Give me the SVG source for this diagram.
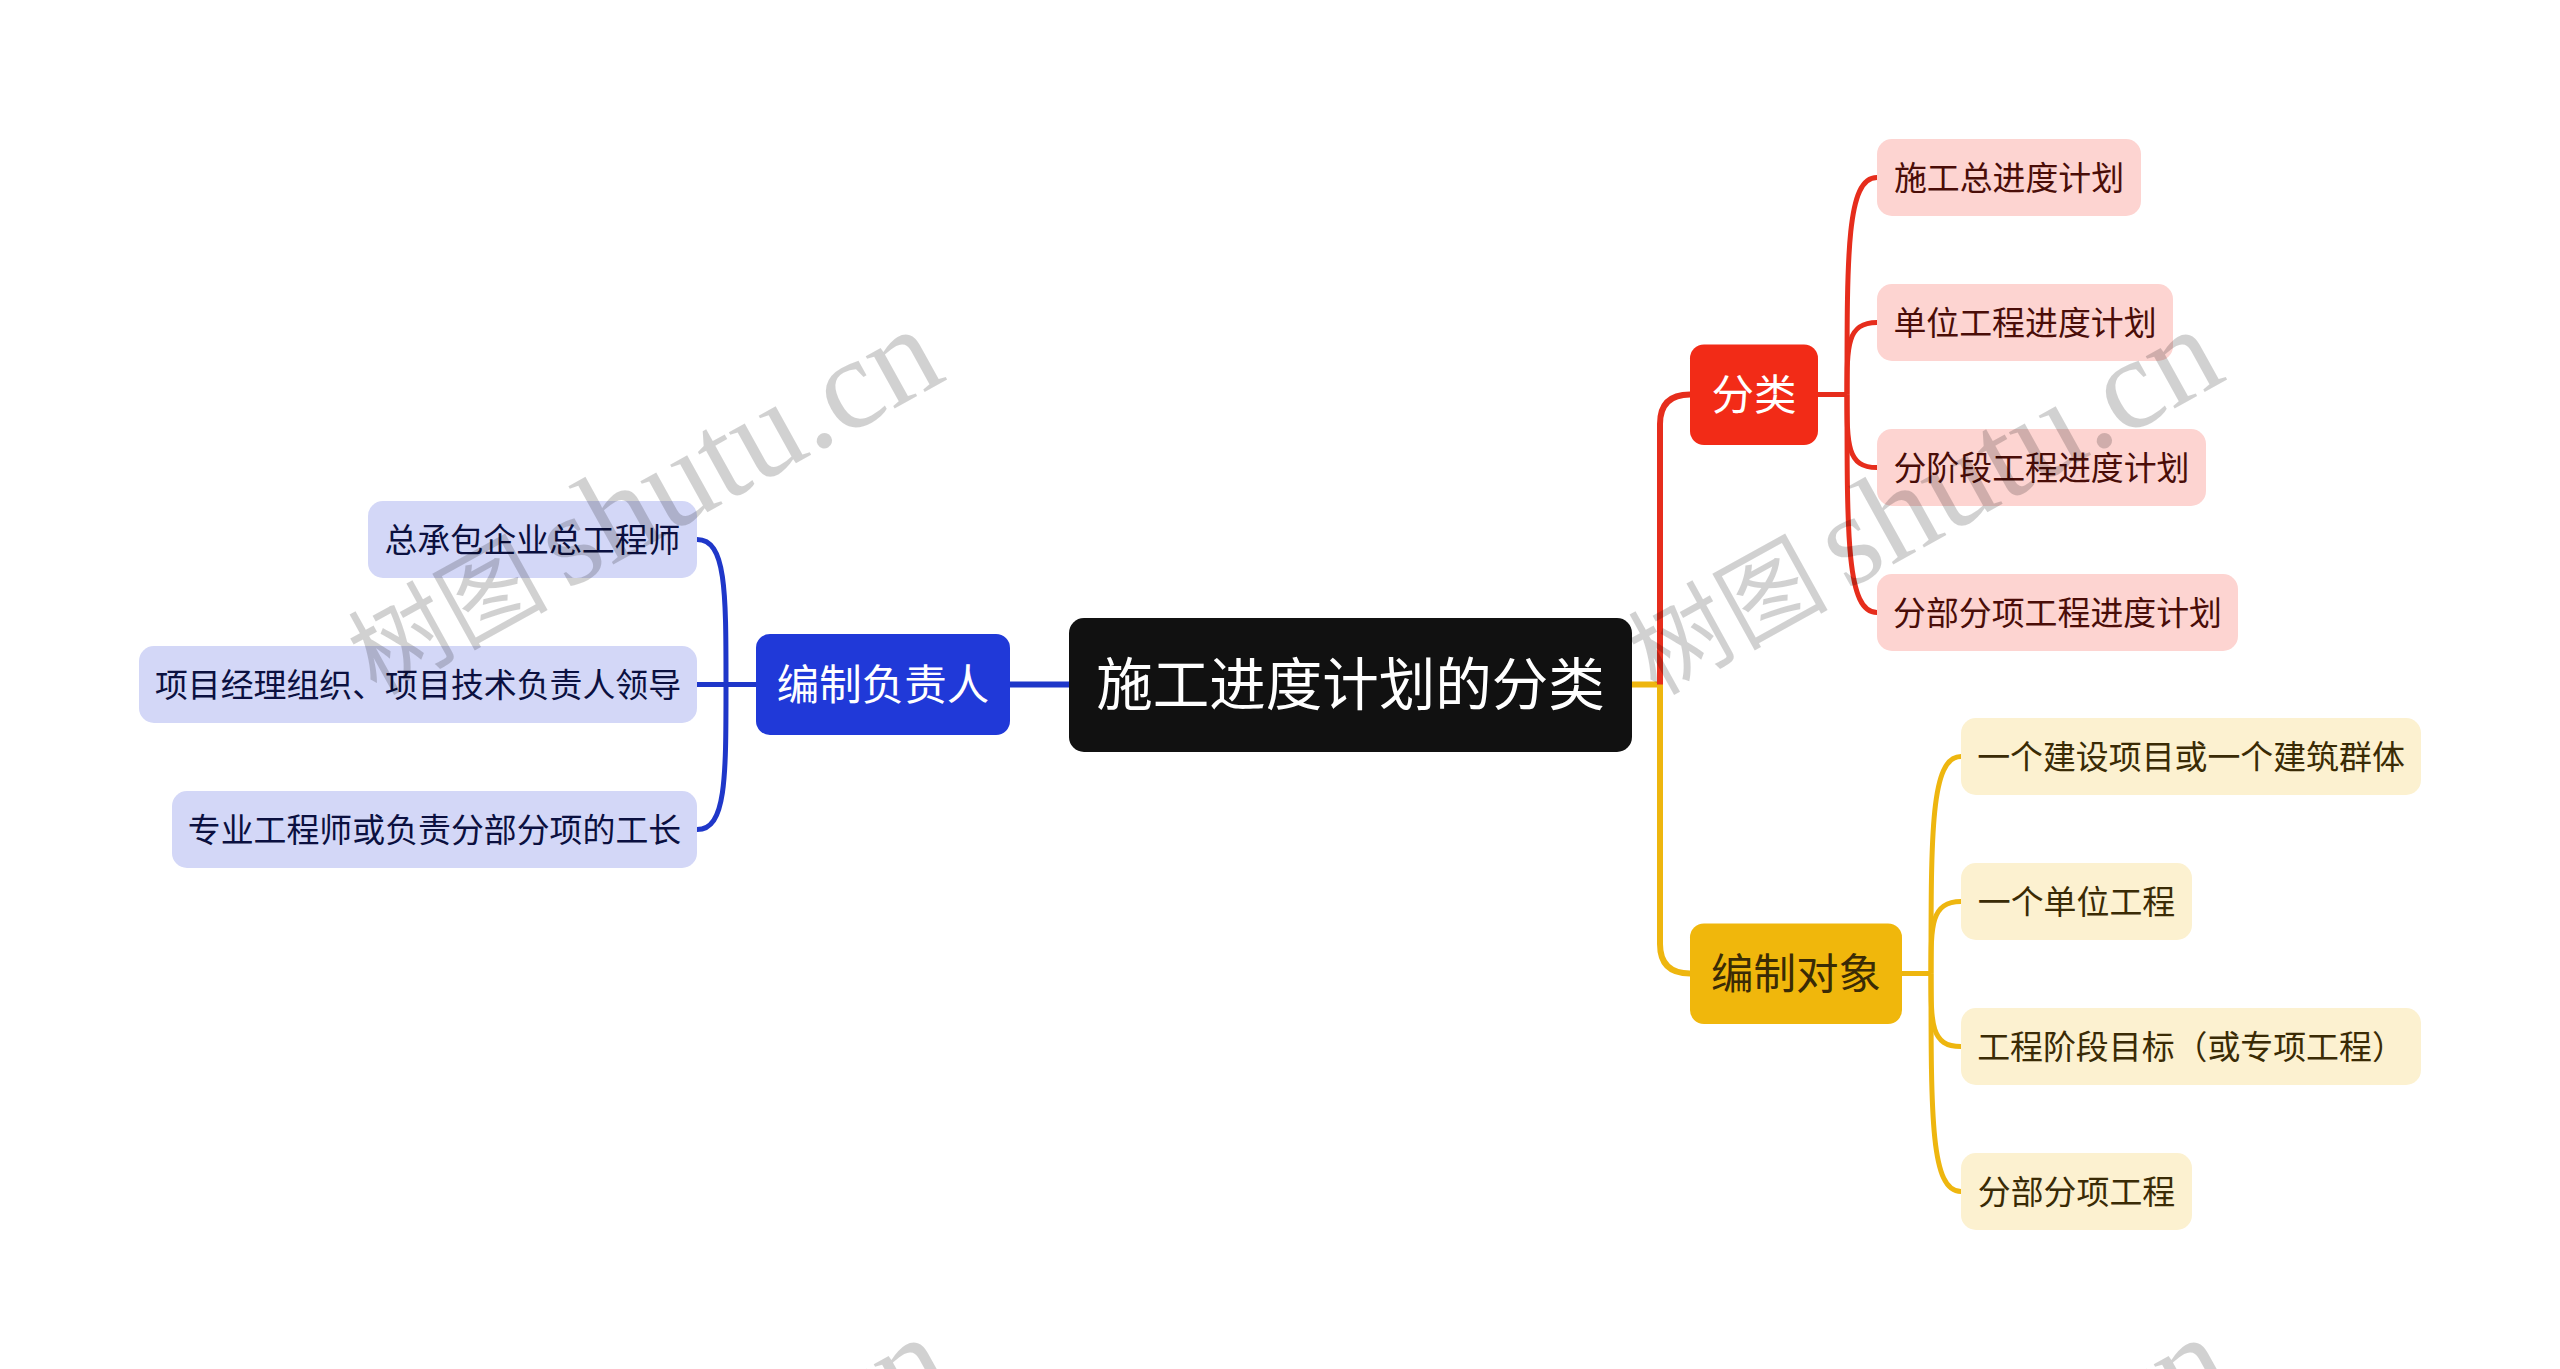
<svg xmlns="http://www.w3.org/2000/svg" width="2560" height="1369" viewBox="0 0 2560 1369">
<style>
text{font-family:"Noto Sans CJK SC","Noto Sans",sans-serif;text-anchor:middle}
.c{fill:none;stroke-linecap:butt}
.r{stroke:#e62d1c}.y{stroke:#eeb60f}.b{stroke:#1f37c9}
.t{stroke-width:6}.s{stroke-width:5}
.lf{font-size:32.9px}
.lr rect{fill:#fdd4d1}.lr text{fill:#4a0d08}
.ly rect{fill:#fcf1d0}.ly text{fill:#3a2b05}
.lb rect{fill:#d3d7f7}.lb text{fill:#0b1040}
.wm{font-family:"Liberation Serif","Noto Sans CJK SC",serif;font-size:130px;fill:#000;fill-opacity:.18;text-anchor:start}
.wm .z{font-family:"Noto Sans CJK SC",serif;font-size:100px}
</style>
<rect width="2560" height="1369" fill="#fff"/>
<g id="connectors">
<path class="c y t" d="M1632 684.500H1660V944Q1660 973.500 1690 973.500"/>
<path class="c r t" d="M1660 684.500V424Q1660 394.500 1690 394.500"/>
<path class="c b t" d="M1010 684.500H1069"/>
<path class="c r s" d="M1818 394.500H1847"/>
<path class="c r s" d="M1847 394.500C1847 250 1847 177.500 1877 177.500"/>
<path class="c r s" d="M1847 394.500C1847 345 1847 322.500 1877 322.500"/>
<path class="c r s" d="M1847 394.500C1847 445 1847 467.500 1877 467.500"/>
<path class="c r s" d="M1847 394.500C1847 540 1847 612.500 1877 612.500"/>
<path class="c y s" d="M1902 973.500H1931"/>
<path class="c y s" d="M1931 973.500C1931 830 1931 756.500 1961 756.500"/>
<path class="c y s" d="M1931 973.500C1931 925 1931 901.500 1961 901.500"/>
<path class="c y s" d="M1931 973.500C1931 1025 1931 1046.500 1961 1046.500"/>
<path class="c y s" d="M1931 973.500C1931 1120 1931 1191.500 1961 1191.500"/>
<path class="c b s" d="M756 684.500H697"/>
<path class="c b s" d="M726 684.500C726 590 726 539.500 697 539.500"/>
<path class="c b s" d="M726 684.500C726 780 726 829.500 697 829.500"/>
</g>
<g id="root"><rect x="1069" y="618" width="563" height="134" rx="15" fill="#111"/><text x="1350.500" y="705" font-size="56.500" fill="#fff">施工进度计划的分类</text></g>
<g id="n-fenlei"><rect x="1690" y="344.500" width="128" height="100.500" rx="14" fill="#f22b17"/><text x="1754" y="410" font-size="42.500" fill="#fff">分类</text></g>
<g id="n-duixiang"><rect x="1690" y="923.500" width="212" height="100.500" rx="14" fill="#f0b70c"/><text x="1796" y="989" font-size="42.500" fill="#3a2b05">编制对象</text></g>
<g id="n-fuzeren"><rect x="756" y="634" width="254" height="101" rx="14" fill="#2039d8"/><text x="883" y="700" font-size="42.500" fill="#fff">编制负责人</text></g>
<g id="r1" class="lr lf"><rect x="1877" y="139" width="264" height="77" rx="15"/><text x="2009" y="190">施工总进度计划</text></g>
<g id="r2" class="lr lf"><rect x="1877" y="284" width="296" height="77" rx="15"/><text x="2025" y="335">单位工程进度计划</text></g>
<g id="r3" class="lr lf"><rect x="1877" y="429" width="329" height="77" rx="15"/><text x="2041.500" y="480">分阶段工程进度计划</text></g>
<g id="r4" class="lr lf"><rect x="1877" y="574" width="361" height="77" rx="15"/><text x="2057.500" y="625">分部分项工程进度计划</text></g>
<g id="y1" class="ly lf"><rect x="1961" y="718" width="460" height="77" rx="15"/><text x="2191" y="769">一个建设项目或一个建筑群体</text></g>
<g id="y2" class="ly lf"><rect x="1961" y="863" width="231" height="77" rx="15"/><text x="2076.500" y="914">一个单位工程</text></g>
<g id="y3" class="ly lf"><rect x="1961" y="1008" width="460" height="77" rx="15"/><text x="2191" y="1059">工程阶段目标（或专项工程）</text></g>
<g id="y4" class="ly lf"><rect x="1961" y="1153" width="231" height="77" rx="15"/><text x="2076.500" y="1204">分部分项工程</text></g>
<g id="b1" class="lb lf"><rect x="368" y="501" width="329" height="77" rx="15"/><text x="532.500" y="552">总承包企业总工程师</text></g>
<g id="b2" class="lb lf"><rect x="139" y="646" width="558" height="77" rx="15"/><text x="418" y="697">项目经理组织、项目技术负责人领导</text></g>
<g id="b3" class="lb lf"><rect x="172" y="791" width="525" height="77" rx="15"/><text x="434.500" y="842">专业工程师或负责分部分项的工长</text></g>
<g id="watermarks">
<text class="wm" transform="translate(376 696) rotate(-29)"><tspan class="z">树图</tspan><tspan dx="18">shutu.cn</tspan></text>
<text class="wm" transform="translate(1656 696) rotate(-29)"><tspan class="z">树图</tspan><tspan dx="18">shutu.cn</tspan></text>
<text class="wm" transform="translate(384 1704) rotate(-29)"><tspan dx="218">shutu.cn</tspan></text>
<text class="wm" transform="translate(1664 1704) rotate(-29)"><tspan dx="218">shutu.cn</tspan></text>
</g>
</svg>
